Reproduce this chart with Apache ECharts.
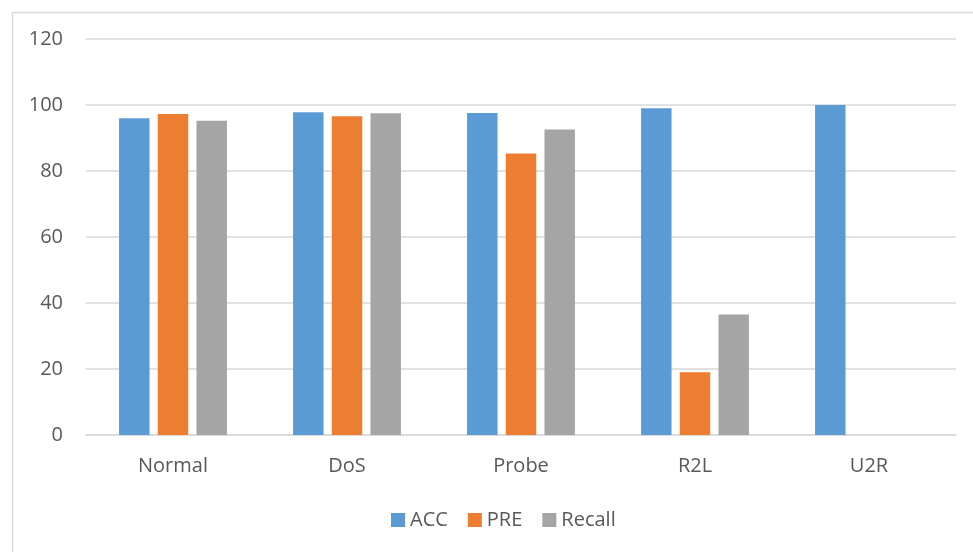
<!DOCTYPE html>
<html>
<head>
<meta charset="utf-8">
<script src="https://cdn.jsdelivr.net/npm/echarts@6/dist/echarts.min.js"></script>
<style>
  html, body { margin: 0; padding: 0; background: #ffffff; }
  #chart { width: 973px; height: 552px; }
</style>
</head>
<body>
<div id="chart"></div>
<script>
// Detection metrics per traffic class
const categories = ['Normal', 'DoS', 'Probe', 'R2L', 'U2R'];
const accValues = [96.0, 97.8, 97.6, 99.0, 100];
const preValues = [97.3, 96.6, 85.3, 19.0, 0];
const recallValues = [95.2, 97.5, 92.6, 36.5, 0];
const yTicks = { min: 0, max: 120, step: 20 };

const FONT = '"Open Sans", "Liberation Sans", sans-serif';
const TEXT = '#595959';
const GRID = '#d9d9d9';

const chart = echarts.init(document.getElementById('chart'), null, { renderer: 'canvas' });

function barSeries(name, data, color) {
  return {
    name: name,
    type: 'bar',
    data: data,
    barGap: '27%',
    barCategoryGap: '38%',
    itemStyle: { color: color },
    emphasis: { disabled: true }
  };
}

chart.setOption({
  animation: false,
  textStyle: { fontFamily: FONT },
  graphic: [{
    type: 'rect',
    left: 10, top: 10,
    shape: { width: 975, height: 560 },
    style: { fill: 'none', stroke: GRID, lineWidth: 1.5 },
    silent: true
  }],
  grid: { left: 86, right: 17, top: 39, bottom: 117, containLabel: false },
  legend: {
    data: ['ACC', 'PRE', 'Recall'],
    bottom: 17,
    left: 386,
    icon: 'rect',
    itemWidth: 14,
    itemHeight: 14,
    itemGap: 20,
    textStyle: { fontFamily: FONT, fontSize: 20, color: TEXT },
    selectedMode: false
  },
  xAxis: {
    type: 'category',
    data: categories,
    axisLine: { lineStyle: { color: GRID, width: 1.5 } },
    axisTick: { show: false },
    axisLabel: { fontFamily: FONT, fontSize: 20, color: TEXT, margin: 21 }
  },
  yAxis: {
    type: 'value',
    min: yTicks.min,
    max: yTicks.max,
    interval: yTicks.step,
    axisLine: { show: false },
    axisTick: { show: false },
    splitLine: { lineStyle: { color: GRID, width: 1.5 } },
    axisLabel: { fontFamily: FONT, fontSize: 20, color: TEXT, margin: 23 }
  },
  series: [
    barSeries('ACC', accValues, '#5b9bd5'),
    barSeries('PRE', preValues, '#ed7d31'),
    barSeries('Recall', recallValues, '#a5a5a5')
  ]
});
</script>
</body>
</html>
